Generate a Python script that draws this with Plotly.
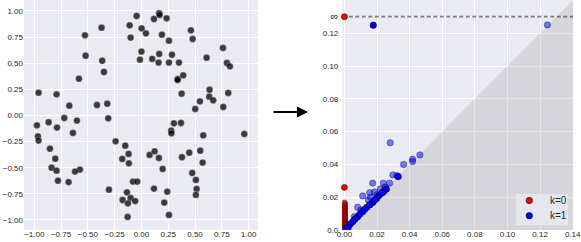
import math
import plotly.graph_objects as go

# ---------------- data ----------------
circle_x = [-0.045, 0.165, 0.17, 0.117, 0.235, -0.11, -0.372, 0.002, 0.042, -0.527,
            -0.101, 0.191, 0.462, 0.478, 0.257, 0.761, 0.0, -0.521, -0.366, -0.014,
            0.101, 0.166, 0.160, 0.285, 0.257, 0.35, 0.608, 0.798, 0.826, -0.35,
            -0.583, 0.34, 0.337, 0.39, -0.96, -0.792, 0.375, 0.636, 0.633, 0.67,
            0.546, 0.81, 0.764, 0.502, -0.673, -0.415, -0.319, -0.31, -0.72, -0.866,
            -0.602, -0.975, -0.788, -0.639, 0.303, 0.369, 0.278, 0.28, 0.577, 0.96,
            -0.966, -0.96, -0.241, -0.854, -0.151, -0.12, -0.179, -0.117, -0.804, 0.076,
            0.123, 0.163, 0.378, 0.446, 0.549, 0.571, -0.838, -0.792, -0.574, -0.62,
            0.198, 0.474, 0.508, -0.779, -0.68, -0.079, -0.039, 0.515, 0.508, -0.303,
            0.117, 0.241, -0.135, -0.176, -0.101, -0.058, -0.126, 0.213, 0.257, -0.129]
circle_y = [0.952, 0.978, 0.962, 0.923, 0.93, 0.863, 0.84, 0.834, 0.786, 0.767,
            0.745, 0.773, 0.815, 0.732, 0.716, 0.646, 0.611, 0.572, 0.524, 0.534,
            0.541, 0.589, 0.506, 0.582, 0.506, 0.506, 0.553, 0.502, 0.47, 0.416,
            0.352, 0.35, 0.34, 0.384, 0.218, 0.202, 0.209, 0.246, 0.18, 0.145,
            0.135, 0.215, 0.081, 0.062, 0.094, 0.10, 0.113, -0.027, -0.024, -0.065,
            -0.049, -0.094, -0.116, -0.167, -0.075, -0.072, -0.145, -0.171, -0.19, -0.177,
            -0.2, -0.24, -0.247, -0.318, -0.289, -0.368, -0.416, -0.458, -0.413, -0.378,
            -0.343, -0.407, -0.40, -0.356, -0.337, -0.451, -0.50, -0.528, -0.518, -0.537,
            -0.512, -0.55, -0.617, -0.624, -0.637, -0.633, -0.633, -0.703, -0.76, -0.71,
            -0.70, -0.729, -0.735, -0.809, -0.79, -0.819, -0.841, -0.834, -0.952, -0.971]

# H0 (k=0) diagram
h0_birth_solid = [0.0, 0.0]
h0_death_solid = [0.026, math.inf]
h0_stack_death = [0.0165, 0.0157, 0.0149, 0.0143, 0.0137, 0.0131, 0.0126, 0.0119,
                  0.0113, 0.0108, 0.0101, 0.0096, 0.0089, 0.0083, 0.0078, 0.0071,
                  0.0066, 0.0059, 0.0053, 0.0048, 0.0042, 0.0037, 0.0031, 0.0026,
                  0.0019, 0.0013, 0.0008, 0.0003]
h0_stack_birth = [0.0] * len(h0_stack_death)

# H1 (k=1) diagram
h1_birth_solid = [0.0177, 0.0330, 0.0257, 0.0240, 0.0214, 0.0199, 0.0173, 0.0138, 0.0112,
                  0.0081, 0.0065, 0.0051, 0.0036, 0.0024, 0.0010, 0.0186, 0.0155, 0.0124,
                  0.0095, 0.0230]
h1_death_solid = [0.1249, 0.0326, 0.0249, 0.0234, 0.0212, 0.0194, 0.0167, 0.0139, 0.0112,
                  0.0081, 0.0066, 0.0051, 0.0037, 0.0017, 0.0012, 0.0182, 0.0153, 0.0126,
                  0.0097, 0.0226]
h1_birth_light = [0.1245, 0.0281, 0.0463, 0.0418, 0.0418, 0.0363, 0.0297, 0.0322, 0.0173,
                  0.0239, 0.0277, 0.0220, 0.0155, 0.0185, 0.0112, 0.0147, 0.0081, 0.0102,
                  0.0061, 0.0200, 0.0250, 0.0160]
h1_death_light = [0.1251, 0.0532, 0.0458, 0.0432, 0.0418, 0.0400, 0.0336, 0.0331, 0.0286,
                  0.0286, 0.0286, 0.0250, 0.0228, 0.0232, 0.0208, 0.0183, 0.0139, 0.0122,
                  0.0081, 0.0215, 0.0262, 0.0200]

legend_labels = ["k=0", "k=1"]
legend_colors = ["#ff0000", "#0000ff"]

left_ticks = [-1.0, -0.75, -0.5, -0.25, 0.0, 0.25, 0.5, 0.75, 1.0]
pd_xticks = [0.0, 0.02, 0.04, 0.06, 0.08, 0.10, 0.12, 0.14]
pd_yticks = [0.0, 0.02, 0.04, 0.06, 0.08, 0.10, 0.12]

# ---------------- layout settings ----------------
W, H = 581, 242
INF_LEVEL = 0.1301
PD_X = [-0.0013, 0.1402]
PD_Y = [0.0, 0.1403]
BG = "#EAEAF2"
FONT = "Liberation Sans, Arial, sans-serif"
TICKCOL = "#262626"


def fmt_left(v):
    s = f"{abs(v):.2f}"
    return ("\u2212" + s) if v < 0 else s


def inf_map(vals):
    return [INF_LEVEL if math.isinf(v) else v for v in vals]


fig = go.Figure()

# left: point cloud
fig.add_trace(go.Scatter(
    x=circle_x, y=circle_y, mode="markers", xaxis="x", yaxis="y",
    marker=dict(size=6.8, color="rgba(0,0,0,0.75)",
                line=dict(color="rgba(255,255,255,0.6)", width=0.5)),
    showlegend=False, hoverinfo="skip"))

# right: shaded region below diagonal
lo, hi = PD_X[0], max(PD_X[1], PD_Y[1])
fig.add_trace(go.Scatter(
    x=[lo, hi, hi, lo], y=[lo, hi, lo, lo], mode="lines", fill="toself",
    fillcolor="rgba(128,128,128,0.2)", line=dict(width=0),
    xaxis="x2", yaxis="y2", showlegend=False, hoverinfo="skip"))

# infinity dashed line
fig.add_trace(go.Scatter(
    x=[PD_X[0], PD_X[1]], y=[INF_LEVEL, INF_LEVEL], mode="lines",
    line=dict(color="rgba(0,0,0,0.5)", width=1.7, dash="4px,2.5px"),
    xaxis="x2", yaxis="y2", showlegend=False, hoverinfo="skip"))

# H0 stack
fig.add_trace(go.Scatter(
    x=h0_stack_birth, y=h0_stack_death, mode="markers", xaxis="x2", yaxis="y2",
    marker=dict(size=6, color="rgba(255,0,0,0.6)",
                line=dict(color="rgba(0,0,0,0.6)", width=0.7)),
    showlegend=False, hoverinfo="skip"))
# H0 solid
fig.add_trace(go.Scatter(
    x=h0_birth_solid, y=inf_map(h0_death_solid), mode="markers", xaxis="x2", yaxis="y2",
    name=legend_labels[0], showlegend=False, hoverinfo="skip",
    marker=dict(size=6, color=legend_colors[0], line=dict(color="rgba(0,0,0,0.8)", width=0.7)),
    cliponaxis=False))
# H1 light
fig.add_trace(go.Scatter(
    x=h1_birth_light, y=h1_death_light, mode="markers", xaxis="x2", yaxis="y2",
    marker=dict(size=6.4, color="rgba(0,0,255,0.5)",
                line=dict(color="rgba(0,0,60,0.5)", width=0.7)),
    showlegend=False, hoverinfo="skip"))
# H1 solid
fig.add_trace(go.Scatter(
    x=h1_birth_solid, y=h1_death_solid, mode="markers", xaxis="x2", yaxis="y2",
    name=legend_labels[1], showlegend=False, hoverinfo="skip",
    marker=dict(size=6.4, color=legend_colors[1], line=dict(color="rgba(0,0,0,0.8)", width=0.7))))

axis_common = dict(showgrid=True, gridcolor="white", gridwidth=1, zeroline=False,
                   showline=False, ticks="", automargin=False, ticklabeloverflow="allow",
                   tickfont=dict(size=8, color=TICKCOL, family=FONT))

# ---- manual legend (box, markers, labels) ----
LEG_BOX = (516, 194, 568, 225)    # pixel box: left, top, right, bottom
LEG_ROWS = [200.5, 215.7]         # pixel row centres
LEG_MARK_X, LEG_TEXT_X = 529.3, 547.5

shapes = [dict(type="rect", xref="paper", yref="paper",
               x0=LEG_BOX[0] / W, x1=LEG_BOX[2] / W,
               y0=1 - LEG_BOX[3] / H, y1=1 - LEG_BOX[1] / H,
               fillcolor="rgba(234,234,242,0.8)", line=dict(width=0), layer="above")]
annotations = [dict(x=308 / W, y=1 - 112 / H, xref="paper", yref="paper",
                    ax=-36, ay=0, showarrow=True, arrowhead=2, arrowsize=1,
                    arrowwidth=2.2, arrowcolor="black", text="")]
for lab, col, row in zip(legend_labels, legend_colors, LEG_ROWS):
    shapes.append(dict(type="circle", xref="paper", yref="paper",
                       xsizemode="pixel", ysizemode="pixel",
                       xanchor=LEG_MARK_X / W, yanchor=1 - row / H,
                       x0=-3.2, x1=3.2, y0=-3.2, y1=3.2,
                       fillcolor=col, line=dict(color="rgba(0,0,0,0.8)", width=0.7),
                       layer="above"))
    annotations.append(dict(x=LEG_TEXT_X / W, y=1 - row / H, xref="paper", yref="paper",
                            xanchor="left", yanchor="middle", showarrow=False, text=lab,
                            font=dict(size=10, color=TICKCOL, family=FONT)))

fig.update_layout(
    width=W, height=H,
    margin=dict(l=0, r=0, t=0, b=0, autoexpand=False),
    paper_bgcolor="white", plot_bgcolor=BG,
    font=dict(family=FONT, color=TICKCOL),
    showlegend=False, hovermode=False,
    xaxis=dict(domain=[24 / W, 258 / W], range=[-1.096, 1.088], anchor="y",
               tickvals=left_ticks, ticktext=[fmt_left(v) for v in left_ticks],
               ticklabelstandoff=-2, **axis_common),
    yaxis=dict(domain=[12 / H, 1.0], range=[-1.096, 1.105], anchor="x",
               tickvals=left_ticks, ticktext=[fmt_left(v) for v in left_ticks], **axis_common),
    xaxis2=dict(domain=[342.3 / W, 573 / W], range=PD_X, anchor="y2",
                tickvals=pd_xticks, ticktext=[f"{v:.2f}" for v in pd_xticks],
                ticklabelstandoff=-2, **axis_common),
    yaxis2=dict(domain=[12 / H, 1.0], range=PD_Y, anchor="x2",
                tickvals=pd_yticks + [INF_LEVEL],
                ticktext=["0.0"] + [f"{v:.2f}" for v in pd_yticks[1:]]
                + ["<span style='font-size:11px'>\u221e</span>"],
                ticklabelstandoff=3, **axis_common),
    shapes=shapes,
    annotations=annotations,
)

fig.write_html("out.html", config={"displayModeBar": False, "staticPlot": True},
               post_script="document.body.style.margin='0';document.body.style.overflow='hidden';")
